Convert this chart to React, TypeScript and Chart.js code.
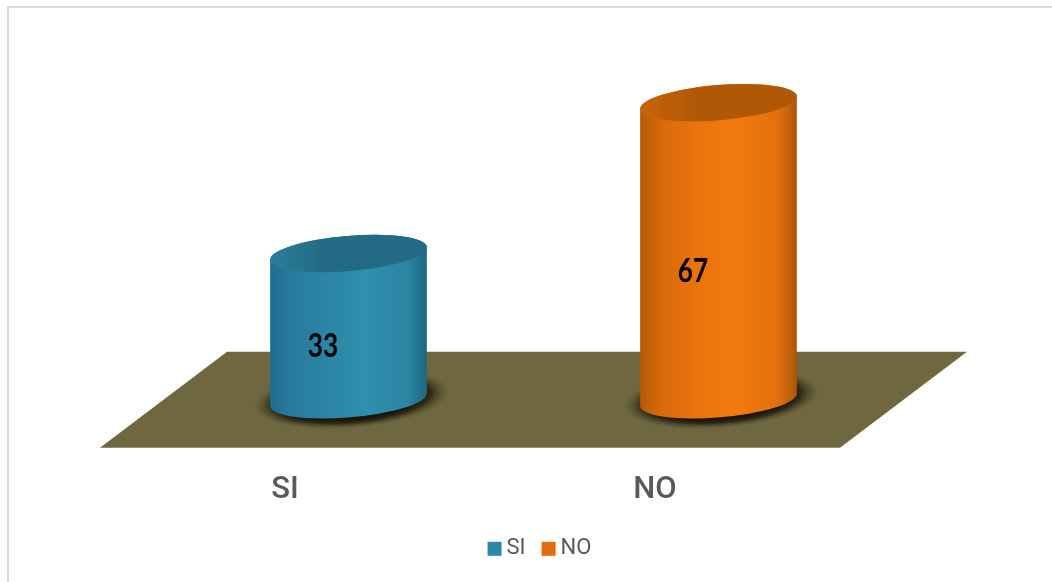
import React, { useEffect, useRef } from "react";
import { Chart, BarController, BarElement, CategoryScale, LinearScale, Tooltip } from "chart.js";

const categories = ["SI", "NO"];
const values = [33, 67];
const legendColors = ["#2e87a5", "#e46c0a"];
const bodyStops = [
  ["#1f6c90", "#267a9c", "#2b85a4", "#2f8fae", "#2b85a3", "#1f6680"],
  ["#b35a09", "#d6680b", "#ea730c", "#f27a0d", "#e2700c", "#a9560a"],
];
const capColors = [
  ["#2a7d99", "#236b84"],
  ["#c96509", "#b05806"],
];

const FLOOR_DX = 127;
const FLOOR_DY = 96;
const FLOOR_COLOR = "#6f6740";
const ELLIPSE_RY = 17.6;
const ELLIPSE_TILT = -0.083;

function cylinderPath(ctx: CanvasRenderingContext2D, cx: number, topY: number, baseY: number, rx: number) {
  ctx.beginPath();
  ctx.ellipse(cx, baseY, rx, ELLIPSE_RY, ELLIPSE_TILT, 0, Math.PI);
  ctx.ellipse(cx, topY, rx, ELLIPSE_RY, ELLIPSE_TILT, Math.PI, Math.PI * 2);
  ctx.closePath();
}

// A bar drawn as an upright cylinder standing in the middle of the floor's depth.
class CylinderElement extends BarElement {
  static id = "cylinder";
  draw(ctx: CanvasRenderingContext2D) {
    const p = (this as any).getProps(["x", "y", "base", "width"], true);
    const i = (this as any).$context?.dataIndex ?? 0;
    const cx = p.x + FLOOR_DX / 2;
    const topY = p.y - FLOOR_DY / 2;
    const baseY = p.base - FLOOR_DY / 2;
    const rx = p.width / 2;

    // contact shadow on the floor
    ctx.save();
    ctx.translate(cx + 3, baseY - 1);
    ctx.rotate(ELLIPSE_TILT);
    ctx.scale(1, 0.3);
    const shadow = ctx.createRadialGradient(0, 0, rx * 0.88, 0, 0, rx * 1.25);
    shadow.addColorStop(0, "rgba(26,22,10,1)");
    shadow.addColorStop(0.35, "rgba(36,31,15,0.85)");
    shadow.addColorStop(1, "rgba(80,74,42,0)");
    ctx.fillStyle = shadow;
    ctx.beginPath();
    ctx.arc(0, 0, rx * 1.25, 0, Math.PI * 2);
    ctx.fill();
    ctx.restore();

    // curved side
    const side = ctx.createLinearGradient(cx - rx, 0, cx + rx, 0);
    const stops = bodyStops[i];
    side.addColorStop(0, stops[0]);
    side.addColorStop(0.12, stops[1]);
    side.addColorStop(0.35, stops[2]);
    side.addColorStop(0.62, stops[3]);
    side.addColorStop(0.88, stops[4]);
    side.addColorStop(1, stops[5]);
    cylinderPath(ctx, cx, topY, baseY, rx);
    ctx.fillStyle = side;
    ctx.fill();

    // top cap
    const cap = ctx.createLinearGradient(cx - rx, 0, cx - rx * 0.3, 0);
    cap.addColorStop(0, capColors[i][0]);
    cap.addColorStop(1, capColors[i][1]);
    ctx.beginPath();
    ctx.ellipse(cx, topY, rx, ELLIPSE_RY, ELLIPSE_TILT, 0, Math.PI * 2);
    ctx.fillStyle = cap;
    ctx.fill();
  }
}

class CylinderController extends BarController {
  static id = "cylinderBar";
  static defaults = { ...BarController.defaults, dataElementType: "cylinder" };
}

Chart.register(CylinderController, CylinderElement, BarController, BarElement, CategoryScale, LinearScale, Tooltip);

const floorPlugin = {
  id: "floor",
  beforeDatasetsDraw(chart: any) {
    const { ctx, chartArea: a } = chart;
    ctx.save();
    ctx.beginPath();
    ctx.moveTo(a.left, a.bottom);
    ctx.lineTo(a.right, a.bottom);
    ctx.lineTo(a.right + FLOOR_DX, a.bottom - FLOOR_DY);
    ctx.lineTo(a.left + FLOOR_DX, a.bottom - FLOOR_DY);
    ctx.closePath();
    ctx.fillStyle = FLOOR_COLOR;
    ctx.fill();
    ctx.restore();
  },
};

const valueLabelPlugin = {
  id: "valueLabels",
  afterDatasetsDraw(chart: any) {
    const { ctx } = chart;
    const meta = chart.getDatasetMeta(0);
    meta.data.forEach((bar: any, i: number) => {
      const mid = (bar.y + bar.base) / 2;
      ctx.save();
      ctx.translate(bar.x + 38, mid - 28);
      ctx.scale(0.82, 1);
      ctx.font = "bold 32px Lato";
      ctx.fillStyle = "#000000";
      ctx.textAlign = "center";
      ctx.textBaseline = "middle";
      ctx.fillText(String(values[i]), 0, 0);
      ctx.restore();
    });
  },
};

// Compact legend: small gap between swatch and text, centred under the whole floor.
const keyPlugin = {
  id: "keyRow",
  afterDraw(chart: any) {
    const { ctx, chartArea: a } = chart;
    const box = 14;
    const gap = 5;
    const itemGap = 16;
    ctx.save();
    ctx.font = "22px Roboto";
    ctx.textBaseline = "middle";
    ctx.textAlign = "left";
    const widths = categories.map((c) => ctx.measureText(c).width);
    const total = widths.reduce((s, w) => s + w + box + gap, 0) + itemGap * (categories.length - 1);
    const y = a.bottom + 101;
    let x = (a.left + a.right + FLOOR_DX) / 2 + 6 - total / 2;
    categories.forEach((c, i) => {
      ctx.fillStyle = legendColors[i];
      ctx.fillRect(x, y - box / 2, box, box);
      ctx.fillStyle = "#595959";
      ctx.fillText(c, x + box + gap, y);
      x += box + gap + widths[i] + itemGap;
    });
    ctx.restore();
  },
};

export default function App() {
  const ref = useRef<HTMLCanvasElement>(null);
  useEffect(() => {
    const chart = new Chart(ref.current!, {
      type: "cylinderBar" as any,
      data: {
        labels: categories,
        datasets: [{ data: values, backgroundColor: legendColors, barPercentage: 0.85, categoryPercentage: 0.5, clip: false }],
      },
      options: {
        animation: false,
        responsive: false,
        layout: { padding: { left: 100, right: 212, top: 93, bottom: 57 } },
        scales: {
          x: {
            grid: { display: false },
            border: { display: false },
            ticks: { color: "#595959", font: { family: "Roboto", size: 31, weight: "500" }, padding: 16, maxRotation: 0 },
          },
          y: { display: false, min: 0, max: 80 },
        },
        plugins: {
          tooltip: { enabled: false },
          legend: { display: false },
        },
      },
      plugins: [floorPlugin, valueLabelPlugin, keyPlugin],
    } as any);
    return () => chart.destroy();
  }, []);
  return (
    <div style={{ position: "absolute", left: 0, top: 0, width: 1052, height: 582, overflow: "hidden", background: "#fff" }}>
      <div style={{ position: "absolute", left: 7, top: 6, width: 1060, height: 600, borderLeft: "2px solid #d9d9d9", borderTop: "2px solid #d9d9d9" }} />
      <canvas ref={ref} width={1052} height={582} style={{ position: "absolute", left: 0, top: 0 }} />
    </div>
  );
}
